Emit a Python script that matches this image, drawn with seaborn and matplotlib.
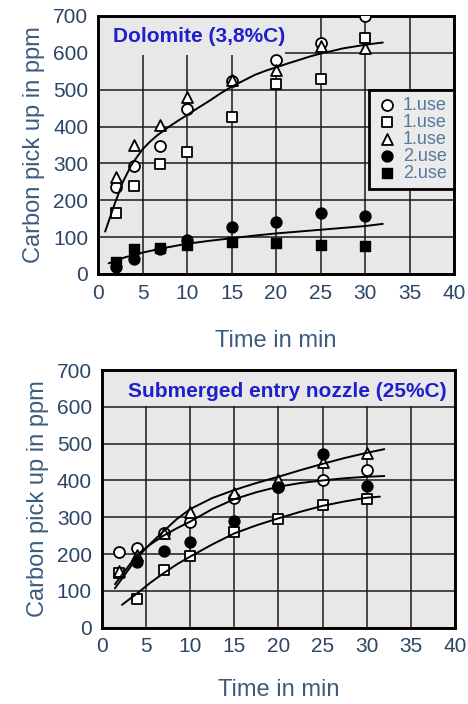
import matplotlib
matplotlib.use("Agg")
import matplotlib.pyplot as plt
from matplotlib.patches import Rectangle
import seaborn as sns

sns.set_style("white")
plt.rcParams['font.family'] = ['Liberation Sans', 'DejaVu Sans']

# ---------------- data ----------------
time_pts = [2, 4, 7, 10, 15, 20, 25, 30]

# Dolomite (3,8%C)
dol_circle_1 = [237, 294, 348, 447, 524, 580, 626, 700]
dol_square_1 = [166, 239, 298, 332, 427, 515, 529, 639]
dol_triangle_1 = [264, 350, 404, 481, 526, 553, 619, 612]
dol_circle_2 = [20, 42, 68, 92, 128, 142, 165, 156]
dol_square_2 = [32, 67, 70, 79, 88, 85, 79, 76]

dol_fit1_x = [0.8, 1.4, 1.9, 2.4, 2.8, 3.3, 3.75, 4.4, 5, 5.8, 6.7, 8, 9, 10, 11.2,
              12.4, 13.7, 15, 16.3, 17.6, 18.9, 20.2, 21.3, 22.5, 23.8, 25, 26.3,
              27.5, 28.8, 30, 31, 32]
dol_fit1_y = [115, 157, 192, 224, 250, 274, 296, 318, 338, 358, 377, 400, 416, 431, 450,
              468, 489, 508, 524, 540, 552, 562, 571, 580, 590, 598, 605,
              612, 617, 622, 625, 628]
dol_fit2_x = [1.2, 3, 5, 7.5, 10, 12.5, 15, 17.5, 20, 22.5, 25, 27.5, 30, 32]
dol_fit2_y = [29, 45, 58, 71, 82, 90, 97, 104, 110, 115, 120, 125, 130, 136]

# Submerged entry nozzle (25%C)
sen_circle_1 = [205, 217, 256, 288, 351, 383, 401, 428]
sen_square_1 = [148, 78, 157, 195, 261, 294, 332, 349]
sen_triangle_1 = [155, 198, 258, 315, 365, 401, 451, 474]
sen_circle_2_x = [4, 7, 10, 15, 20, 25, 30]
sen_circle_2 = [179, 208, 234, 290, 383, 472, 385]

sen_fitA_x = [1.5, 2.5, 4, 5.5, 7, 8.5, 10, 12.5, 15, 17.5, 20, 22.5, 25, 27.5, 30, 32]
sen_fitA_y = [107, 140, 190, 228, 262, 295, 322, 352, 374, 393, 410, 428, 445, 461, 475, 485]
sen_fitB_x = [1.5, 2.5, 4, 5.5, 7, 8.5, 10, 12.5, 15, 17.5, 20, 22.5, 25, 27.5, 30, 32]
sen_fitB_y = [118, 150, 198, 226, 250, 270, 288, 322, 349, 368, 383, 393, 400, 406, 410, 412]
sen_fitC_x = [2.3, 3, 4, 5.5, 7, 8.5, 10, 12.5, 15, 17.5, 20, 22.5, 25, 27.5, 30, 31.5]
sen_fitC_y = [62, 75, 93, 122, 148, 172, 193, 226, 256, 278, 297, 315, 331, 343, 353, 356]

x_ticks = [0, 5, 10, 15, 20, 25, 30, 35, 40]
y_ticks = [0, 100, 200, 300, 400, 500, 600, 700]

# ---------------- style ----------------
BG = '#e8e8e8'
TICK_C = '#2b4566'
LABEL_C = '#3c5c7e'
LEG_C = '#56789e'
TITLE_C = '#1f1fcc'
MS = 62

fig = plt.figure(figsize=(4.68, 7.04), dpi=100)
ax1 = fig.add_axes([0.2094, 0.6108, 0.7607, 0.3665])
ax2 = fig.add_axes([0.2173, 0.1084, 0.7550, 0.3660])


def style_axes(ax, xpad):
    ax.set_facecolor(BG)
    ax.set_xlim(0, 40)
    ax.set_ylim(0, 700)
    ax.set_xticks(x_ticks)
    ax.set_yticks(y_ticks)
    ax.set_axisbelow(True)
    ax.grid(True, color='#1a1a1a', lw=1.1)
    for s in ax.spines.values():
        s.set_color('black')
        s.set_linewidth(2.1)
    ax.tick_params(axis='both', direction='out', length=5, width=1,
                   color='#333333', labelcolor=TICK_C, labelsize=15, pad=2)
    ax.set_xlabel('Time in min', fontsize=17, color=LABEL_C, labelpad=xpad)
    ax.set_ylabel('Carbon pick up in ppm', fontsize=17, color=LABEL_C, labelpad=6)


def open_pts(ax, x, y, marker, label):
    sns.scatterplot(x=x, y=y, ax=ax, marker=marker, s=MS, facecolor='white',
                    edgecolor='black', linewidth=1.3, zorder=3, label=label)


def filled_pts(ax, x, y, marker, label):
    sns.scatterplot(x=x, y=y, ax=ax, marker=marker, s=MS, color='black',
                    edgecolor='black', linewidth=1.0, zorder=3, label=label)


def fit_line(ax, x, y):
    sns.lineplot(x=x, y=y, ax=ax, color='black', lw=1.4, sort=False,
                 estimator=None, zorder=4, legend=False)


# ---------------- top: Dolomite ----------------
style_axes(ax1, 20)
ax1.add_patch(Rectangle((0, 594), 21, 106, facecolor=BG, edgecolor='none', zorder=0.9))
open_pts(ax1, time_pts, dol_circle_1, 'o', '1.use')
open_pts(ax1, time_pts, dol_square_1, 's', '1.use')
open_pts(ax1, time_pts, dol_triangle_1, '^', '1.use')
filled_pts(ax1, time_pts, dol_circle_2, 'o', '2.use')
filled_pts(ax1, time_pts, dol_square_2, 's', '2.use')
fit_line(ax1, dol_fit1_x, dol_fit1_y)
fit_line(ax1, dol_fit2_x, dol_fit2_y)
ax1.text(1.7, 643, 'Dolomite (3,8%C)', color=TITLE_C, fontsize=15,
         fontweight='bold', va='center', ha='left', zorder=5)
leg = ax1.legend(loc='upper right', bbox_to_anchor=(1.0, 500 / 700), borderaxespad=0,
                 frameon=True, fancybox=False, framealpha=1, facecolor='#ebebeb',
                 edgecolor='black', fontsize=13, handletextpad=0.3,
                 handlelength=1.2, labelspacing=0.0, borderpad=0.4,
                 markerscale=1.0)
leg.get_frame().set_linewidth(2.0)
for t in leg.get_texts():
    t.set_color(LEG_C)

# ---------------- bottom: SEN ----------------
style_axes(ax2, 16)
ax2.add_patch(Rectangle((0, 603), 40, 97, facecolor=BG, edgecolor='none', zorder=0.9))
open_pts(ax2, time_pts, sen_circle_1, 'o', None)
open_pts(ax2, time_pts, sen_square_1, 's', None)
open_pts(ax2, time_pts, sen_triangle_1, '^', None)
filled_pts(ax2, sen_circle_2_x, sen_circle_2, 'o', None)
fit_line(ax2, sen_fitA_x, sen_fitA_y)
fit_line(ax2, sen_fitB_x, sen_fitB_y)
fit_line(ax2, sen_fitC_x, sen_fitC_y)
ax2.text(3.0, 643, 'Submerged entry nozzle (25%C)', color=TITLE_C, fontsize=15,
         fontweight='bold', va='center', ha='left', zorder=5)
if ax2.get_legend() is not None:
    ax2.get_legend().remove()

fig.savefig('out.png', dpi=100)
